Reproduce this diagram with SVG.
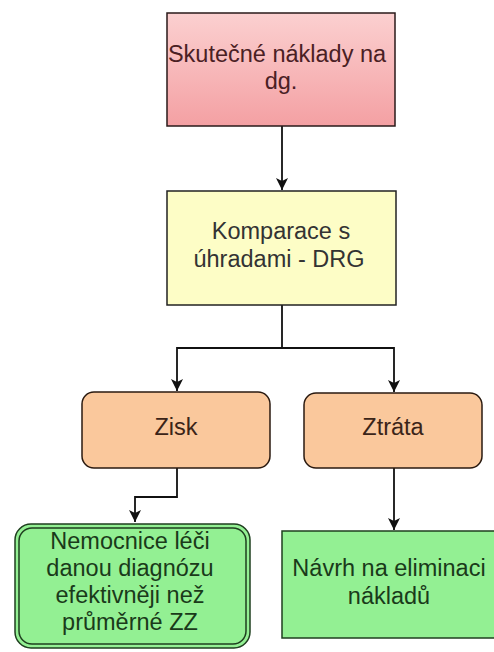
<svg xmlns="http://www.w3.org/2000/svg" width="494" height="652" viewBox="0 0 494 652">
<defs>
<linearGradient id="gPink" x1="0" y1="0" x2="0" y2="1">
<stop offset="0" stop-color="#fbd0d0"/>
<stop offset="1" stop-color="#f4a0a3"/>
</linearGradient>
<marker id="arrow" viewBox="0 0 14 14" refX="13" refY="7" markerWidth="14" markerHeight="14" markerUnits="userSpaceOnUse" orient="auto">
<path d="M1,1 L13,7 L1,13 L4,7 Z" fill="#111"/>
</marker>
</defs>
<style>
.t{font-family:"Liberation Sans",Arial,sans-serif;font-size:23.5px;text-anchor:middle}
.e{fill:none;stroke:#111;stroke-width:1.8}
</style>
<rect width="494" height="652" fill="#fff"/>
<g id="connectors">
<path class="e" d="M282,126 V190" marker-end="url(#arrow)"/>
<path class="e" d="M282,305 V348 H177 V391" marker-end="url(#arrow)"/>
<path class="e" d="M282,348 H394 V392" marker-end="url(#arrow)"/>
<path class="e" d="M177,468 V497 H135 V522" marker-end="url(#arrow)"/>
<path class="e" d="M394,468 V530" marker-end="url(#arrow)"/>
</g>
<g id="node-skutecne">
<rect x="167" y="13" width="228" height="113" fill="url(#gPink)" stroke="#2a1a1a" stroke-width="1.5"/>
<text class="t" x="277" y="62" fill="#4a2024">Skutečné náklady na</text>
<text class="t" x="281" y="89" fill="#4a2024">dg.</text>
</g>
<g id="node-komparace">
<rect x="167" y="191" width="229" height="114" fill="#fdfdc6" stroke="#222" stroke-width="1.5"/>
<text class="t" x="281" y="239" fill="#333">Komparace s</text>
<text class="t" x="279" y="267" fill="#333">úhradami - DRG</text>
</g>
<g id="node-zisk">
<rect x="82" y="392" width="188" height="76" rx="12" fill="#fac89c" stroke="#2a1a10" stroke-width="1.5"/>
<text class="t" x="176" y="435" fill="#3a2418">Zisk</text>
</g>
<g id="node-ztrata">
<rect x="304" y="393" width="178" height="75" rx="12" fill="#fac89c" stroke="#2a1a10" stroke-width="1.5"/>
<text class="t" x="393" y="435" fill="#3a2418">Ztráta</text>
</g>
<g id="node-nemocnice">
<rect x="15" y="524" width="235" height="124" rx="16" fill="#93f093" stroke="#1f3f1f" stroke-width="1.5"/>
<rect x="19" y="528" width="227" height="116" rx="13" fill="none" stroke="#1f3f1f" stroke-width="1.5"/>
<text class="t" x="130" y="549" fill="#1a3a1a">Nemocnice léči</text>
<text class="t" x="130" y="576" fill="#1a3a1a">danou diagnózu</text>
<text class="t" x="130" y="603" fill="#1a3a1a">efektivněji než</text>
<text class="t" x="130" y="630" fill="#1a3a1a">průměrné ZZ</text>
</g>
<g id="node-navrh">
<rect x="282" y="531" width="214" height="107" fill="#93f093" stroke="#1f3f1f" stroke-width="1.5"/>
<text class="t" x="389" y="576" fill="#1a3a1a">Návrh na eliminaci</text>
<text class="t" x="389" y="604" fill="#1a3a1a">nákladů</text>
</g>
</svg>
